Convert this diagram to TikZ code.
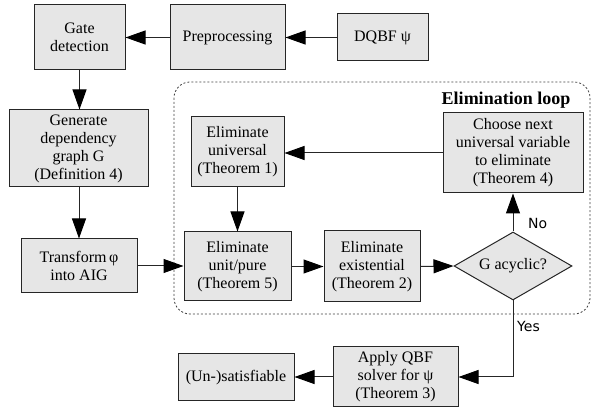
\documentclass[tikz,border=0pt]{standalone}
\usepackage{fontspec}
\setmainfont{Liberation Serif}
\newfontfamily\labfont{DejaVu Sans}
\usetikzlibrary{shapes.geometric,arrows.meta}
\definecolor{boxfill}{HTML}{E6E6E6}
\definecolor{boxline}{HTML}{262626}
\begin{document}
\begin{tikzpicture}[x=1pt,y=-1pt,
  box/.style={draw=boxline,fill=boxfill,line width=1pt,align=center,inner sep=0pt,
    font=\fontsize{16}{18}\selectfont},
  arr/.style={draw=boxline,line width=1pt,-{Triangle[length=20pt,width=14pt,fill=black,color=black]}},
  lab/.style={font=\labfont\fontsize{14}{16}\selectfont,inner sep=0pt,anchor=west}]
\useasboundingbox (0,0) rectangle (592,411);
% elimination loop border
\draw[black!75,line width=0.8pt,dash pattern=on 2pt off 2pt,rounded corners=16pt]
  (174,82) rectangle (590,314);
\node[font=\bfseries\fontsize{18}{20}\selectfont,inner sep=0pt] (title) at (506,100) {Elimination loop};
% nodes
\node[box,minimum width=91pt,minimum height=65pt] (gate) at (79.5,37.5) {Gate\\detection};
\node[box,minimum width=115pt,minimum height=65pt] (pre) at (227.5,37.5) {Preprocessing};
\node[box,minimum width=91pt,minimum height=47pt] (dqbf) at (382.5,37.5) {DQBF ψ};
\node[box,minimum width=139pt,minimum height=77pt] (gen) at (78.5,148.5) {Generate\\dependency\\graph G\\(Definition 4)};
\node[box,minimum width=116pt,minimum height=54pt] (trans) at (79,266) {Transform\,φ\\into AIG};
\node[box,minimum width=93pt,minimum height=70pt] (univ) at (237.5,152) {Eliminate\\universal\\(Theorem 1)};
\node[box,minimum width=140pt,minimum height=80pt] (choose) at (513,153) {Choose next\\universal variable\\to eliminate\\(Theorem 4)};
\node[box,minimum width=107pt,minimum height=69pt] (unit) at (237.5,266.5) {Eliminate\\unit/pure\\(Theorem 5)};
\node[box,minimum width=96pt,minimum height=71pt] (exist) at (372,266.5) {Eliminate\\existential\\(Theorem 2)};
\node[box,diamond,aspect=1.735,minimum width=118pt,minimum height=68pt] (acyc) at (513,266) {G acyclic?};
\node[box,minimum width=125pt,minimum height=60pt] (apply) at (395.5,377) {Apply QBF\\solver for ψ\\(Theorem 3)};
\node[box,minimum width=116pt,minimum height=47pt] (unsat) at (236,377.5) {(Un-)satisfiable};
% labels
\node[lab] (no) at (528,223) {No};
\node[lab] (yes) at (517,326) {Yes};
% connectors
\draw[arr] (dqbf.west) -- (pre.east);
\draw[arr] (pre.west) -- (gate.east);
\draw[arr] (gate.south) -- (gate.south |- gen.north);
\draw[arr] (gen.south -| trans.north) -- (trans.north);
\draw[arr] (trans.east) -- (unit.west |- trans.east);
\draw[arr] (univ.south) -- (unit.north);
\draw[arr] (unit.east) -- (exist.west);
\draw[arr] (exist.east) -- (acyc.west);
\draw[arr] (acyc.north) -- (choose.south);
\draw[arr] (choose.west) -- (univ.east |- choose.west);
\draw[arr] (acyc.south) |- (apply.east);
\draw[arr] (apply.west) -- (unsat.east |- apply.west);
\end{tikzpicture}
\end{document}
